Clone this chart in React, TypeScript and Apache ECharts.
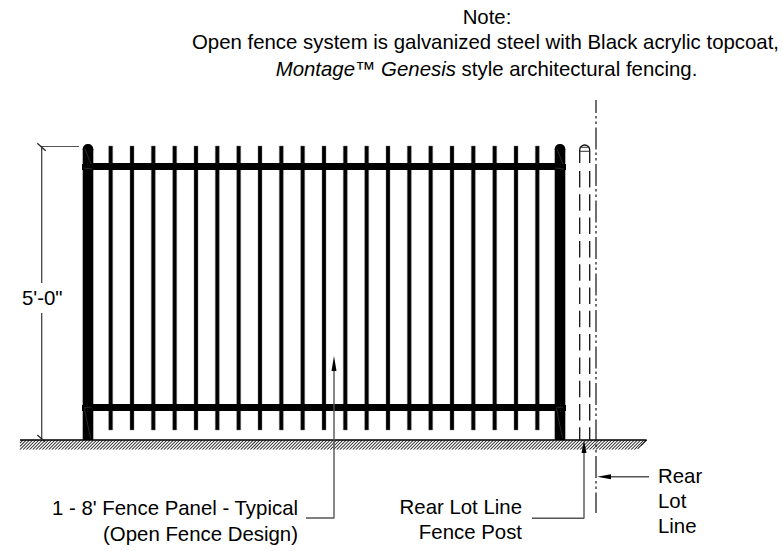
import React, { useEffect, useRef } from "react";
import * as echarts from "echarts";

const W = 783;
const H = 551;

const picketX = [110.7, 132, 153.3, 174.7, 196, 217.3, 238.7, 260, 281.3, 302.7, 324, 345.3, 366.7, 388, 409.3, 430.7, 452, 473.3, 494.7, 516, 537.3];
const picketTop = 146;
const picketBottom = 430;
const postX = [88, 560];
const railY = [166.5, 407.5];
const railSpan = [90, 558];
const groundY = 440;
const groundSpan = [20, 646.5];

const noteLines = ["Note:", "Open fence system is galvanized steel with Black acrylic topcoat,"];
const noteItalic = "Montage™ Genesis";
const noteTail = " style architectural fencing.";
const dimensionLabel = "5'-0\"";
const panelLabel = ["1 - 8' Fence Panel - Typical", "(Open Fence Design)"];
const postLabel = ["Rear Lot Line", "Fence Post"];
const lotLabel = ["Rear", "Lot", "Line"];

const FONT = "'Liberation Sans', Arial, sans-serif";
const SIZE = 20.4;

type Seg = { pts: number[][]; color?: string; width?: number; dash?: number[]; offset?: number };

const segments: Seg[] = [
  // dimension
  { pts: [[41.7, 146.5], [41.7, 283]], color: "#444", width: 1.3 },
  { pts: [[41.7, 313], [41.7, 440]], color: "#444", width: 1.3 },
  { pts: [[40, 146.5], [79, 146.5]], color: "#555", width: 1.2 },
  { pts: [[37.3, 143.3], [45.7, 150.7]], color: "#222", width: 1.2 },
  { pts: [[37.3, 435], [45, 441.7]], color: "#222", width: 1.2 },
  // ghost post
  { pts: [[579.7, 150], [579.7, 163]], color: "#111", width: 1.3 },
  { pts: [[589.7, 150], [589.7, 163]], color: "#111", width: 1.3 },
  { pts: [[579.7, 171], [579.7, 440]], color: "#111", width: 1.3, dash: [16.5, 6.8] },
  { pts: [[589.7, 171], [589.7, 440]], color: "#111", width: 1.3, dash: [16.5, 6.8] },
  { pts: [[579.7, 147.3], [589.7, 147.3]], color: "#333", width: 1 },
  { pts: [[579.7, 151.3], [589.7, 151.3]], color: "#333", width: 1 },
  // lot line
  { pts: [[596, 100], [596, 513]], color: "#111", width: 1.2, dash: [22, 3, 2.5, 3, 2.5, 3.5], offset: 8.5 },
  // leaders
  { pts: [[306, 518], [334, 518], [334, 368]], color: "#555", width: 1.4 },
  { pts: [[532, 518.3], [584, 518.3], [584, 450]], color: "#555", width: 1.4 },
  { pts: [[649, 476.7], [608, 476.7]], color: "#555", width: 1.4 },
];

const arrows: number[][][] = [
  [[334, 356], [331.5, 371], [336.5, 371]],
  [[584, 440], [581.5, 453], [586.5, 453]],
  [[597, 476.7], [611, 474.2], [611, 479.2]],
];

const App: React.FC = () => {
  const ref = useRef<HTMLDivElement>(null);
  useEffect(() => {
    const chart = echarts.init(ref.current!, undefined, { renderer: "svg" });
    const rectBetween = (api: any, x0: number, y0: number, x1: number, y1: number) => {
      const a = api.coord([x0, y0]);
      const b = api.coord([x1, y1]);
      return { x: a[0], y: a[1], width: b[0] - a[0], height: b[1] - a[1] };
    };
    const text = (s: string, x: number, y: number, align: string = "left") => ({
      type: "text",
      x,
      y,
      silent: true,
      style: { text: s, font: `${SIZE}px ${FONT}`, fill: "#000", align, verticalAlign: "middle" },
    });
    const series: any[] = [
      {
        type: "custom",
        coordinateSystem: "cartesian2d",
        silent: true,
        z: 3,
        clip: false,
        data: picketX.map((x) => [x]),
        renderItem: (_p: any, api: any) => ({
          type: "rect",
          shape: rectBetween(api, api.value(0) - 2, picketTop, api.value(0) + 2, picketBottom),
          style: { fill: "#000", stroke: "#777", lineWidth: 0.4 },
        }),
      },
      {
        type: "custom",
        coordinateSystem: "cartesian2d",
        silent: true,
        z: 3,
        clip: false,
        data: railY.map((y) => [y]),
        renderItem: (_p: any, api: any) => ({
          type: "rect",
          shape: rectBetween(api, railSpan[0], api.value(0) - 3.5, railSpan[1], api.value(0) + 3.5),
          style: { fill: "#000" },
        }),
      },
      {
        type: "custom",
        coordinateSystem: "cartesian2d",
        silent: true,
        z: 4,
        clip: false,
        data: postX.map((x) => [x]),
        renderItem: (_p: any, api: any) => {
          const x = api.value(0);
          const body = rectBetween(api, x - 5.3, 149, x + 5.3, groundY);
          const cap = api.coord([x, 149]);
          const line = (a: number[], b: number[], lw: number) => {
            const p = api.coord(a);
            const q = api.coord(b);
            return {
              type: "line",
              shape: { x1: p[0], y1: p[1], x2: q[0], y2: q[1] },
              style: { stroke: "#555", lineWidth: lw },
            };
          };
          return {
            type: "group",
            children: [
              { type: "rect", shape: body, style: { fill: "#000" } },
              { type: "rect", shape: { x: cap[0] - 5.3, y: cap[1] - 5, width: 10.6, height: 6, r: [5, 5, 0, 0] }, style: { fill: "#000" } },
              { type: "rect", shape: rectBetween(api, x - 6, 164, x + 6, 170), style: { fill: "#000" } },
              { type: "rect", shape: rectBetween(api, x - 6, 405, x + 6, 411), style: { fill: "#000" } },
              line([x - 3, 149], [x + 3, 164], 0.5),
              line([x - 4.5, 168], [x + 4, 169], 0.5),
              line([x - 3.5, 409], [x + 2.5, 438], 0.5),
              line([x - 4, 408], [x + 3, 407], 0.5),
            ],
          };
        },
      },
      {
        type: "custom",
        coordinateSystem: "cartesian2d",
        silent: true,
        z: 2,
        clip: false,
        data: [[groundSpan[0], groundSpan[1]]],
        renderItem: (_p: any, api: any) => {
          const x0 = api.value(0);
          const x1 = api.value(1);
          const children: any[] = [];
          const hatch = (xa: number, ya: number, xb: number, yb: number) => {
            const a = api.coord([xa, ya]);
            const b = api.coord([xb, yb]);
            children.push({
              type: "line",
              shape: { x1: a[0], y1: a[1], x2: b[0], y2: b[1] },
              style: { stroke: "#222", lineWidth: 1.05 },
            });
          };
          for (let x = x0; x < x1; x += 3.2) {
            const top = Math.min(x + 9.5, x1);
            hatch(x, groundY + (top - x), top, groundY);
          }
          for (let d = 3.2; d < 9.5; d += 3.2) {
            hatch(x0, groundY + 9.5 - d, x0 + 9.5 - d, groundY);
          }
          const s = api.coord([x0, groundY]);
          const e = api.coord([x1, groundY]);
          children.push({
            type: "line",
            shape: { x1: s[0], y1: s[1], x2: e[0], y2: e[1] },
            style: { stroke: "#000", lineWidth: 1.5 },
          });
          return { type: "group", children };
        },
      },
      {
        type: "custom",
        coordinateSystem: "cartesian2d",
        silent: true,
        z: 6,
        clip: false,
        data: arrows.map((a, i) => [i]),
        renderItem: (_p: any, api: any) => ({
          type: "polygon",
          shape: { points: arrows[api.value(0)].map((p) => api.coord(p)) },
          style: { fill: "#000" },
        }),
      },
      ...segments.map((s) => ({
        type: "line",
        silent: true,
        showSymbol: false,
        symbol: "none",
        z: 5,
        clip: false,
        data: s.pts,
        lineStyle: {
          color: s.color ?? "#000",
          width: s.width ?? 1,
          type: s.dash ?? "solid",
          dashOffset: s.offset ?? 0,
          cap: "butt",
        },
      })),
      {
        type: "custom",
        coordinateSystem: "cartesian2d",
        silent: true,
        z: 5,
        clip: false,
        data: [[584.7, 150]],
        renderItem: (_p: any, api: any) => {
          const c = api.coord([api.value(0), api.value(1)]);
          return {
            type: "arc",
            shape: { cx: c[0], cy: c[1], r: 5, startAngle: Math.PI, endAngle: 2 * Math.PI },
            style: { stroke: "#111", fill: "none", lineWidth: 1.3 },
          };
        },
      },
    ];
    chart.setOption({
      animation: false,
      backgroundColor: "#fff",
      grid: { left: 0, right: 0, top: 0, bottom: 0, containLabel: false },
      xAxis: { type: "value", min: 0, max: W, show: false },
      yAxis: { type: "value", min: 0, max: H, inverse: true, show: false },
      series,
      graphic: [
        text(noteLines[0], 487, 17, "center"),
        text(noteLines[1], 485.5, 42, "center"),
        {
          type: "text",
          x: 486.5,
          y: 69,
          silent: true,
          style: {
            text: `{i|${noteItalic}}{n|${noteTail}}`,
            align: "center",
            verticalAlign: "middle",
            rich: {
              i: { font: `italic ${SIZE}px ${FONT}`, fill: "#000" },
              n: { font: `${SIZE}px ${FONT}`, fill: "#000" },
            },
          },
        },
        text(dimensionLabel, 22, 298),
        text(panelLabel[0], 298, 508, "right"),
        text(panelLabel[1], 298, 534, "right"),
        text(postLabel[0], 522, 507, "right"),
        text(postLabel[1], 522, 532, "right"),
        text(lotLabel[0], 658, 476),
        text(lotLabel[1], 658, 501),
        text(lotLabel[2], 658, 526),
      ],
    });
    return () => chart.dispose();
  }, []);
  return <div ref={ref} style={{ position: "absolute", left: 0, top: 0, width: W, height: H }} />;
};

export default App;
